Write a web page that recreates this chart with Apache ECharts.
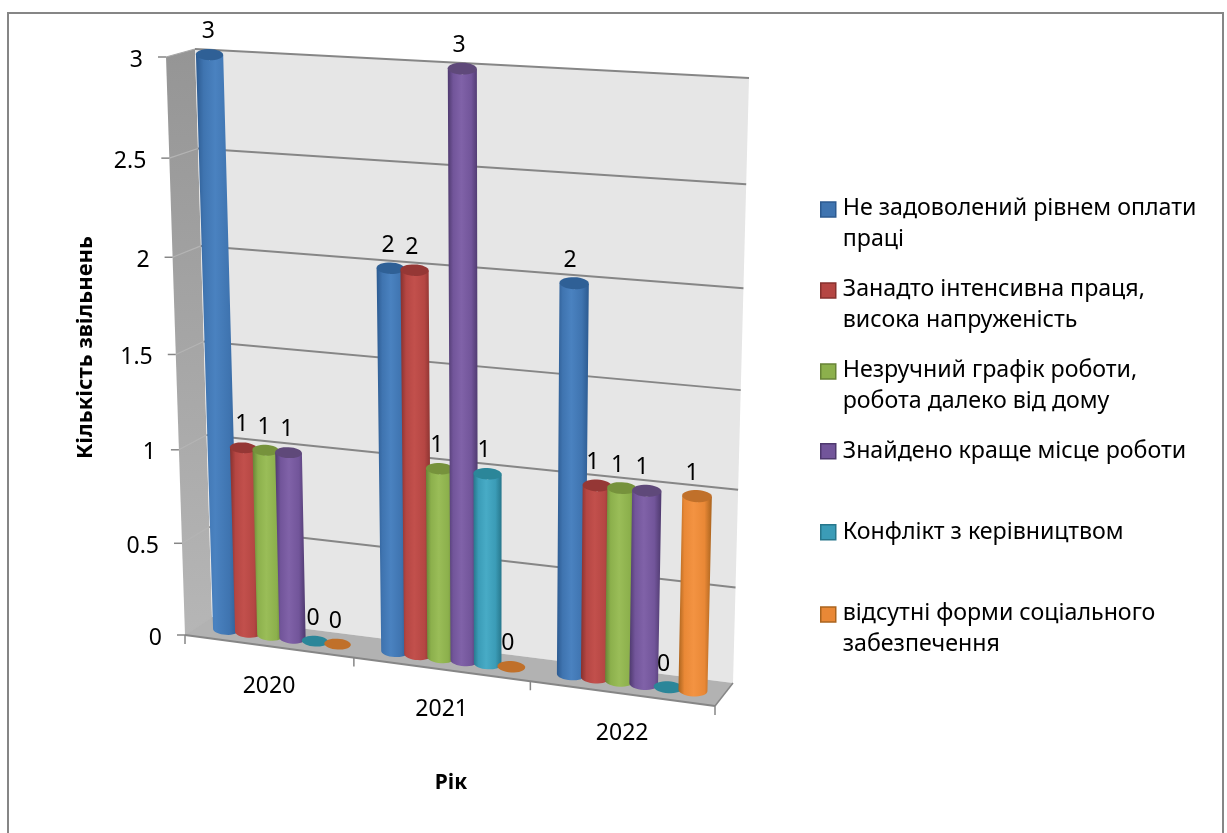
<!DOCTYPE html>
<html>
<head>
<meta charset="utf-8">
<style>html,body{margin:0;padding:0;background:#fff}#chart{width:1227px;height:833px}</style>
<script src="https://cdn.jsdelivr.net/npm/echarts@6/dist/echarts.min.js"></script>
</head>
<body>
<div id="chart"></div>
<script>
// Dismissals by reason and year, drawn as cylinders in a perspective box
const years = ['2020', '2021', '2022'];
const valueTicks = [0, 0.5, 1, 1.5, 2, 2.5, 3];
const paid = [3, 2, 2];
const intensive = [1, 2, 1];
const schedule = [1, 1, 1];
const betterJob = [1, 3, 1];
const conflict = [0, 1, 0];
const noSocial = [0, 0, 1];
const reasons = [
  'Не задоволений рівнем оплати\nпраці',
  'Занадто інтенсивна праця,\nвисока напруженість',
  'Незручний графік роботи,\nробота далеко від дому',
  'Знайдено краще місце роботи',
  'Конфлікт з керівництвом',
  'відсутні форми соціального\nзабезпечення'
];
const seriesValues = [paid, intensive, schedule, betterJob, conflict, noSocial];

// [centre, side, edge, cap] shades per series
const shades = [
  ['#4a82c0', '#3f74b0', '#2c5a90', '#2f6096'],
  ['#c2504c', '#b54643', '#86312e', '#953735'],
  ['#9abd58', '#8cb04c', '#678336', '#76923c'],
  ['#8062a8', '#72559a', '#4e396e', '#5f497a'],
  ['#48abc6', '#3b9cb7', '#27778c', '#2b8699'],
  ['#f39342', '#e98836', '#aa641e', '#c0702a']
];

const FONT = '"Noto Sans", sans-serif';
const AXIS_MAX = 3;

// Box corners on screen: bottom-left, bottom-right, top-right, top-left
const frontQuad = [[185, 635], [715, 706], [729, 90], [166, 57]];
const backQuad = [[212, 617], [733, 683], [749, 78], [195, 49]];

function homography(q) {
  const [[x0, y0], [x1, y1], [x2, y2], [x3, y3]] = q;
  const dx1 = x1 - x2, dx2 = x3 - x2, sx = x0 - x1 + x2 - x3;
  const dy1 = y1 - y2, dy2 = y3 - y2, sy = y0 - y1 + y2 - y3;
  const den = dx1 * dy2 - dx2 * dy1;
  const g = (sx * dy2 - dx2 * sy) / den;
  const h = (dx1 * sy - sx * dy1) / den;
  return [x1 - x0 + g * x1, x3 - x0 + h * x3, x0, y1 - y0 + g * y1, y3 - y0 + h * y3, y0, g, h];
}

// Maps a grid pixel to the screen, at a depth from 0 (front) to 1 (back)
function projector(api, params, depth) {
  const quad = frontQuad.map((p, i) => [
    p[0] + (backQuad[i][0] - p[0]) * depth,
    p[1] + (backQuad[i][1] - p[1]) * depth
  ]);
  const [a, b, c, d, e, f, g, h] = homography(quad);
  const cs = params.coordSys;
  return function (x, v) {
    const px = api.coord([x, v]);
    const s = (px[0] - cs.x) / cs.width;
    const t = (cs.y + cs.height - px[1]) / cs.height;
    const w = g * s + h * t + 1;
    return [(a * s + b * t + c) / w, (d * s + e * t + f) / w];
  };
}

function poly(points, style, z2) {
  return { type: 'polygon', shape: { points }, style, z2: z2 || 0, silent: true };
}
function line(p, q, stroke, lineWidth, z2) {
  return {
    type: 'line', silent: true, z2: z2 || 1,
    shape: { x1: p[0], y1: p[1], x2: q[0], y2: q[1] },
    style: { stroke, lineWidth, fill: null }
  };
}
function label(text, x, y, align, size, z2) {
  return {
    type: 'text', silent: true, z2: z2 || 100,
    style: { text, x, y, align, verticalAlign: 'middle', fill: '#000', font: size + 'px ' + FONT }
  };
}

// Walls, floor, gridlines, ticks and tick labels of the box
function renderBox(params, api) {
  const front = projector(api, params, 0);
  const back = projector(api, params, 1);
  const n = years.length;
  const kids = [];
  kids.push(poly([front(0, 0), back(0, 0), back(0, AXIS_MAX), front(0, AXIS_MAX)], {
    fill: { type: 'linear', x: 0, y: 0, x2: 0, y2: 1, colorStops: [
      { offset: 0, color: '#959595' }, { offset: 1, color: '#b6b6b6' }
    ] }
  }));
  kids.push(poly([back(0, 0), back(n, 0), back(n, AXIS_MAX), back(0, AXIS_MAX)], { fill: '#e6e6e6' }));
  kids.push(poly([front(0, 0), front(n, 0), back(n, 0), back(0, 0)], { fill: '#b2b2b2' }));
  valueTicks.forEach(function (t) {
    const f = front(0, t), b = back(0, t);
    kids.push(line(f, b, t === AXIS_MAX ? '#a8a8a8' : '#b4b4b4', 1.2));
    if (t > 0) kids.push(line(b, back(n, t), '#868686', 2));
    kids.push(line([f[0] - 8, f[1]], f, '#868686', 1.5));
    kids.push(label(String(t), f[0] - 23, f[1] + 3, 'right', 23));
  });
  kids.push(line(front(0, 0), front(n, 0), '#868686', 2, 2));
  kids.push(line(front(n, 0), back(n, 0), '#868686', 1.5, 2));
  for (let i = 0; i <= n; i++) {
    const p = front(i, 0);
    kids.push(line(p, [p[0], p[1] + 9], '#868686', 1.5, 2));
  }
  years.forEach(function (y, i) {
    const p = front(i + 0.5, 0);
    kids.push(label(y, p[0] + 0.5, p[1] + 40, 'center', 23));
  });
  return { type: 'group', children: kids };
}

// Arc of an ellipse around a centre, with its long axis along the local x direction
function ellipse(c, ex, ry, from, to, count) {
  const pts = [];
  for (let i = 0; i <= count; i++) {
    const t = from + (to - from) * i / count;
    pts.push([c[0] + ex[0] * Math.cos(t), c[1] + ex[1] * Math.cos(t) + ry * Math.sin(t)]);
  }
  return pts;
}

const BAR_STEP = 0.1333;
const BAR_RADIUS = 0.078;

function renderCylinder(index, params, api) {
  const mid = projector(api, params, 0.5);
  const u = api.value(0) + 0.5 + (index - 2.5) * BAR_STEP;
  const v = api.value(1);
  const shade = shades[index];
  const ends = function (val) {
    const l = mid(u - BAR_RADIUS, val), r = mid(u + BAR_RADIUS, val);
    return { c: [(l[0] + r[0]) / 2, (l[1] + r[1]) / 2], ex: [(r[0] - l[0]) / 2, (r[1] - l[1]) * 0.2] };
  };
  const bottom = ends(0), top = ends(v);
  const rb = bottom.ex[0] * 0.41, rt = top.ex[0] * 0.41;
  const z = 10 + index;
  const kids = [];
  if (v > 0) {
    const outline = ellipse(bottom.c, bottom.ex, rb, 0, Math.PI, 16)
      .concat(ellipse(top.c, top.ex, rt, Math.PI, 0, 2));
    kids.push(poly(outline, {
      fill: { type: 'linear', x: 0, y: 0, x2: 1, y2: 0, colorStops: [
        { offset: 0, color: shade[2] }, { offset: 0.18, color: shade[1] },
        { offset: 0.45, color: shade[0] }, { offset: 0.78, color: shade[1] },
        { offset: 1, color: shade[2] }
      ] }
    }, z));
  }
  kids.push(poly(ellipse(top.c, top.ex, rt, 0, Math.PI * 2, 32), { fill: shade[3] }, z));
  const dx = -1 - (u * 1.4);
  kids.push(label(String(v), top.c[0] + dx, top.c[1] - 23, 'center', 23));
  return { type: 'group', children: kids };
}

const boxSeries = {
  type: 'custom', name: 'box', coordinateSystem: 'cartesian2d', clip: false, silent: true,
  data: [[0, 0]], renderItem: renderBox
};
const barSeries = reasons.map(function (name, i) {
  return {
    type: 'custom', name, coordinateSystem: 'cartesian2d', clip: false, silent: true,
    itemStyle: { color: shades[i][1] },
    data: seriesValues[i].map(function (val, k) { return [k, val]; }),
    encode: { x: 0, y: 1 },
    renderItem: function (params, api) { return renderCylinder(i, params, api); }
  };
});

// Vertical centre of each legend entry's first text line, and the shared line height
const legendRows = [208.5, 289.5, 370.5, 451.5, 532.5, 613.5];
const LINE = 31.5;
const TALL_ICON = 'path://M0 0H16V16H0Z M0 47L0 47';

const legends = reasons.map(function (name, i) {
  const twoLines = name.indexOf('\n') > 0;
  return {
    data: [{
      name,
      icon: twoLines ? TALL_ICON : 'rect',
      itemStyle: { color: shades[i][1], borderColor: shades[i][2], borderWidth: 1.5 }
    }],
    left: 820,
    top: legendRows[i] - 16,
    padding: 0,
    itemWidth: 15,
    itemHeight: twoLines ? 47 : 15,
    itemGap: 0,
    selectedMode: false,
    textStyle: { color: '#000', fontFamily: FONT, fontSize: 23.2, lineHeight: LINE, padding: [0, 0, 0, 2] }
  };
});

const chart = echarts.init(document.getElementById('chart'), null, { renderer: 'canvas' });
chart.setOption({
  animation: false,
  backgroundColor: '#fff',
  grid: { left: 185, width: 532, top: 60, height: 575 },
  xAxis: {
    type: 'value', min: 0, max: 3, interval: 1,
    name: 'Рік', nameLocation: 'middle', nameGap: 138,
    nameTextStyle: { color: '#000', fontFamily: FONT, fontWeight: 'bold', fontSize: 21 },
    axisLine: { show: false }, axisTick: { show: false }, axisLabel: { show: false }, splitLine: { show: false }
  },
  yAxis: {
    type: 'value', min: 0, max: AXIS_MAX, interval: 0.5,
    name: 'Кількість звільнень', nameLocation: 'middle', nameGap: 88, nameRotate: 90,
    nameTextStyle: { color: '#000', fontFamily: FONT, fontWeight: 'bold', fontSize: 22 },
    axisLine: { show: false }, axisTick: { show: false }, axisLabel: { show: false }, splitLine: { show: false }
  },
  legend: legends,
  graphic: [{
    type: 'rect', silent: true, z: -1,
    shape: { x: 8, y: 13, width: 1215, height: 840 },
    style: { fill: '#fff', stroke: '#868686', lineWidth: 2 }
  }],
  series: [boxSeries].concat(barSeries)
});
</script>
</body>
</html>
